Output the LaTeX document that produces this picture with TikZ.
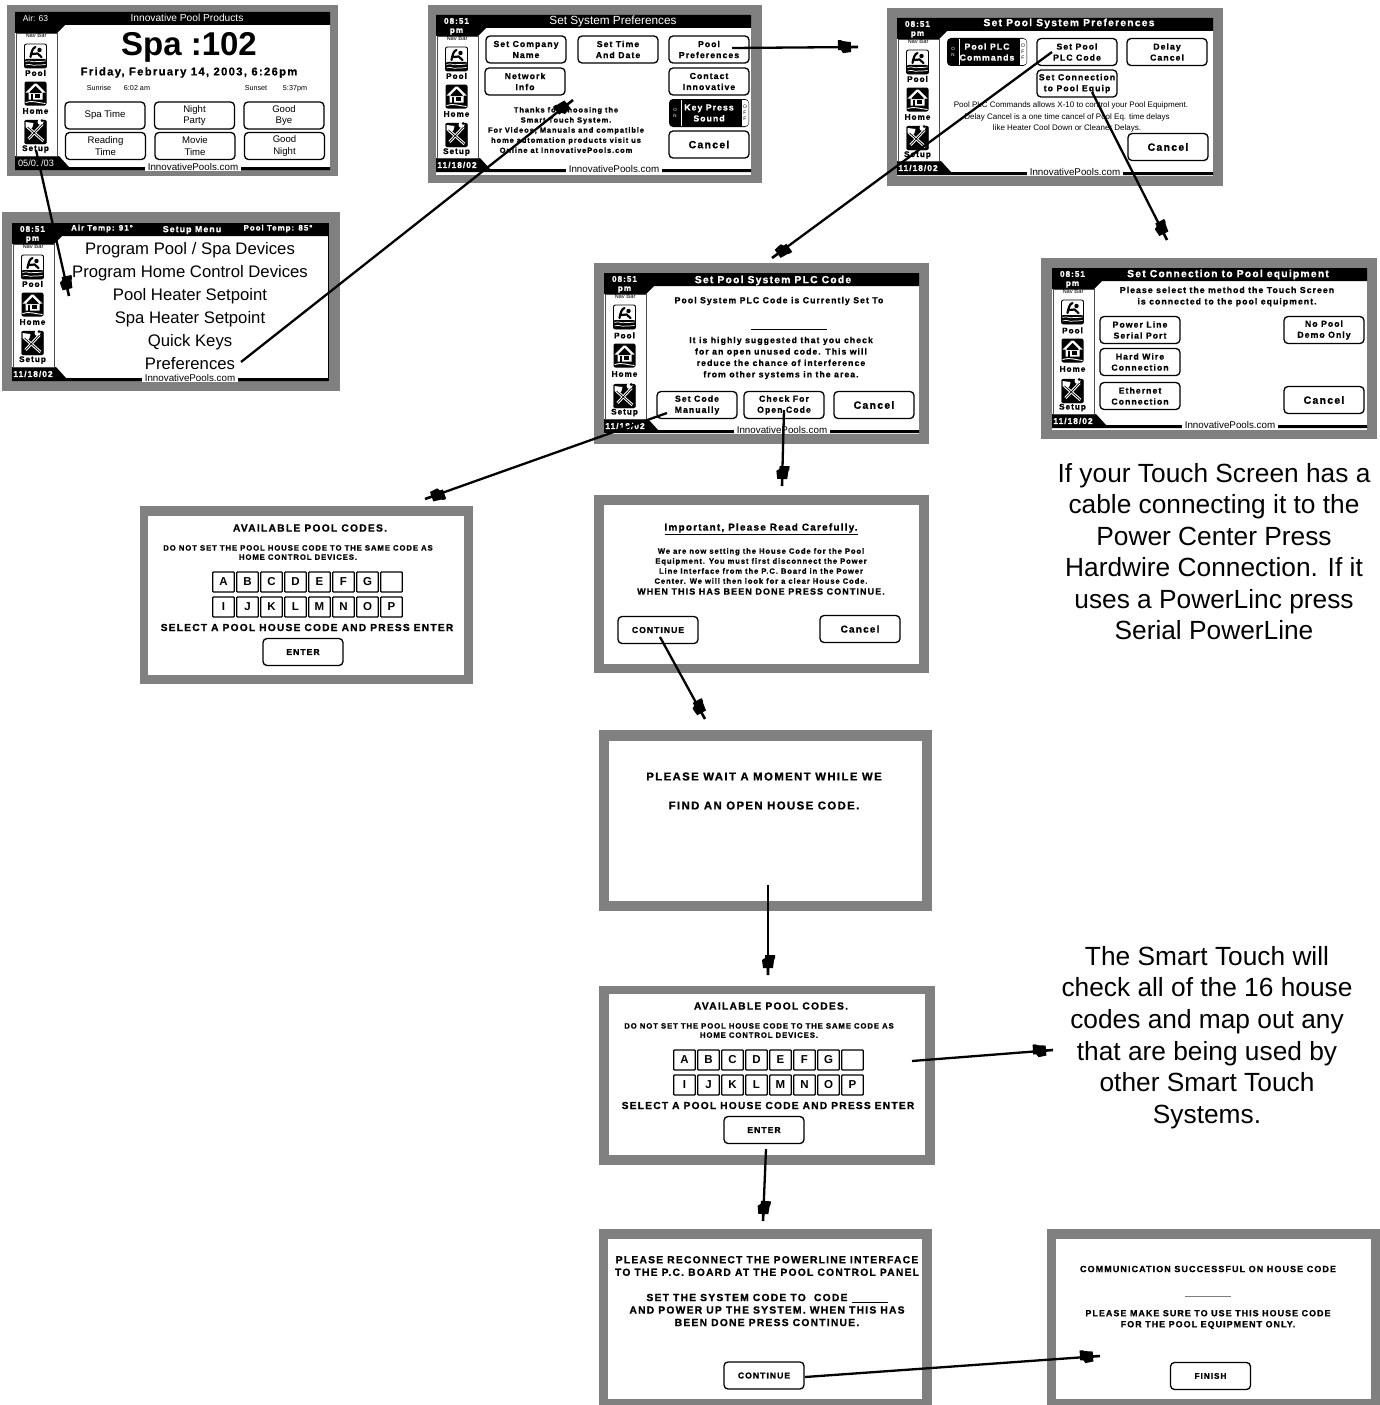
\documentclass[tikz,border=0pt]{standalone}
\usepackage{fontspec}
\setmainfont{Liberation Sans}
\newfontfamily\pxf[LetterSpace=12,BoldFeatures={FakeBold=1}]{Liberation Sans}
\usetikzlibrary{arrows.meta}
\newcommand\PX{\pxf\bfseries}
\newcommand\fs[2]{\fontsize{#1}{#2}\selectfont}
\definecolor{frameg}{HTML}{808080}
\pgfdeclarearrow{name=Blk,
 setup code={\pgfarrowssettipend{0pt}\pgfarrowssetlineend{-9pt}\pgfarrowssetbackend{-20pt}\pgfarrowssetvisualbackend{-20pt}},
 drawing code={
  \pgfpathmoveto{\pgfqpoint{-20pt}{7pt}}
  \pgfpathlineto{\pgfqpoint{-17pt}{7pt}}
  \pgfpathlineto{\pgfqpoint{-15pt}{6pt}}
  \pgfpathlineto{\pgfqpoint{-7pt}{5pt}}
  \pgfpathlineto{\pgfqpoint{-7pt}{1.3pt}}
  \pgfpathlineto{\pgfqpoint{0pt}{1.3pt}}
  \pgfpathlineto{\pgfqpoint{0pt}{-1.3pt}}
  \pgfpathlineto{\pgfqpoint{-7pt}{-1.3pt}}
  \pgfpathlineto{\pgfqpoint{-7pt}{-5pt}}
  \pgfpathlineto{\pgfqpoint{-15pt}{-6pt}}
  \pgfpathlineto{\pgfqpoint{-17pt}{-3pt}}
  \pgfpathlineto{\pgfqpoint{-20pt}{-3pt}}
  \pgfpathclose\pgfusepathqfill}}
\newcounter{lbl}
\newcommand\Lbl[4]{\stepcounter{lbl}\node[lab,font=#3] (lb\thelbl) at (#1,#2) {#4};}
\newcommand\Panel[8]{\fill[frameg] (#1,#2) rectangle (#3,#4);\fill[white] (#5,#6) rectangle (#7,#8);}
\newcommand\Btn[4]{\node[btn] (#1) at (#2,#3) {#4};}
\newcommand\Chrome[7]{%
 \ifnum#4=160 \def\nA{1.5}\def\nB{2}\def\nC{2.5}\def\nD{1}\def\nE{3}\else\def\nA{0}\def\nB{0}\def\nC{0}\def\nD{0}\def\nE{0}\fi
 \begin{scope}[shift={(#1,#2)}]
 \begin{scope}
 \clip (0,0) rectangle (#3,#4);
 \fill (0,0)--(#3,0)--(#3,13)--(50,13)--(42,21)--(0,21)--cycle;
 \fill (0,#4-14)--(44,#4-14)--(54,#4-3)--(#3,#4-3)--(#3,#4)--(0,#4)--cycle;
 \stepcounter{lbl}\node[lab,fill=white,inner xsep=3pt,inner ysep=1pt,font=\normalfont\fs{9.8}{11}] (lb\thelbl) at (178,#4-3) {InnovativePools.com};
 \end{scope}
 \filldraw[fill=white,draw=black!70,line width=.6pt] (1,21) rectangle (42,#4-14);
 \Lbl{20.5}{6}{\PX\fs{8.2}{9}\color{white}}{#5}
 \Lbl{20.5}{16.5}{\PX\fs{8.2}{9}\color{white}}{#6}
 \Lbl{21}{#4-7}{\PX\fs{8.4}{10}\color{white}}{#7}
 \Lbl{21}{24}{\normalfont\fs{5.8}{7}}{Nav Bar}
 \pic at (20.5,44) {poolicon};
 \Lbl{20.5}{61+\nA}{\PX\fs{8.2}{9}}{Pool}
 \pic at (20.5,81.5+\nD) {homeicon};
 \Lbl{20.5}{99+\nB}{\PX\fs{8.2}{9}}{Home}
 \pic at (20.5,120+\nE) {setupicon};
 \Lbl{20.5}{137+\nC}{\PX\fs{8.2}{9}}{Setup}
 \end{scope}}
\newcommand\Tog[4]{%
 \node[tog] (#1) at (#2,#3) {#4};
 \begin{scope}[shift={(#2,#3)}]
 \fill[white,rounded corners=3pt] (30,-13) rectangle (39.5,13);
 \fill (30,-13) rectangle (33,13);
 \fill[white] (-28.5,-13) rectangle (-27.5,13);
 \Lbl{-34}{0}{\normalfont\fs{4.5}{5.5}\color{white}}{O\\N}
 \Lbl{36}{0}{\normalfont\fs{5}{6}}{O\\F\\F}
 \end{scope}}
\newcommand\Codes[3]{%
 \begin{scope}[shift={(#1,#2)}]
 \Lbl{310}{528}{\PX\fs{10.3}{11}}{AVAILABLE POOL CODES.}
 \Lbl{298}{552.5}{\PX\fs{7.7}{9.2}}{DO NOT SET THE POOL HOUSE CODE TO THE SAME CODE AS\\HOME CONTROL DEVICES.}
 \foreach \l [count=\i] in {A,B,C,D,E,F,G,{}}
  \node[keyb] (#3a\i) at (223.5+24*\i-24,582) {\l};
 \foreach \l [count=\i] in {I,J,K,L,M,N,O,P}
  \node[keyb] (#3b\i) at (223.5+24*\i-24,607) {\l};
 \Lbl{307}{627.5}{\PX\fs{10.2}{11}}{SELECT A POOL HOUSE CODE AND PRESS ENTER}
 \Btn{#3enter}{303}{652}{\fs{8.6}{10}ENTER}
 \end{scope}}
\tikzset{
 lab/.style={inner sep=0pt,align=center},
 btn/.style={draw,fill=white,rounded corners=4pt,line width=1.3pt,minimum width=80pt,minimum height=27pt,align=center,inner sep=0pt,font=\PX\fs{8.7}{11}},
 tog/.style={fill=black,rounded corners=4pt,minimum width=80pt,minimum height=28pt,align=center,inner sep=0pt,text=white,font=\PX\fs{8.7}{11}},
 keyb/.style={draw,fill=white,rounded corners=.8pt,line width=1.2pt,minimum width=21.5pt,minimum height=20pt,inner sep=0pt,font=\normalfont\bfseries\fs{11.5}{13}},
 conn/.style={draw,line width=2.3pt,-Blk},
 poolicon/.pic={
  \filldraw[fill=white,draw=black,line width=.9pt,rounded corners=2pt] (-11,-12) rectangle (11,12);
  \fill[rounded corners=2pt] (-11,3) rectangle (11,12);
  \draw[white,line width=.7pt] (-10,5.5) .. controls (-5,3.5) and (-3,7) .. (1,5.5) .. controls (4,4.5) and (7,6.5) .. (10,5);
  \draw[white,line width=.7pt] (-10,9) .. controls (-5,7) and (-3,10.5) .. (1,9) .. controls (4,8) and (7,10) .. (10,8.5);
  \fill (4,-6) circle (2.2pt);
  \draw[line width=2.2pt,line cap=round] (-5,1) .. controls (-4,-4) and (-3,-8) .. (0,-9) (-3,-2) -- (2,-2.5) -- (6,1);
 },
 homeicon/.pic={
  \fill[rounded corners=2pt] (-11,-12) rectangle (11,12);
  \fill[white] (-10,-1) -- (-1,-10) -- (1,-10) -- (10,-1) -- (7,-1) -- (7,6) -- (-7,6) -- (-7,-1) -- cycle;
  \fill (-6,-1.5) -- (0,-7.5) -- (6,-1.5) -- (6,-.5) -- (-6,-.5) -- cycle;
  \fill (-1,0) rectangle (4,4);
  \fill (-5,0) rectangle (-3,6);
  \draw[white,line width=.9pt] (-10,9) .. controls (-3,6.5) and (3,9.5) .. (10,10);
 },
 setupicon/.pic={
  \filldraw[draw=black,fill=black,rounded corners=2pt] (-11,-12) rectangle (11,12);
  \draw[white,line width=2.8pt] (-8,-5) -- (8,9);
  \draw[white,line width=2.8pt] (7,-8) -- (-7,7);
  \fill[white] (-10,-10) -- (-2,-9) -- (-3,-5) -- (-6,-2) -- (-10,-5) -- cycle;
  \fill[white] (5,-10) circle (3pt);
  \fill (6.5,-11.5) circle (1.5pt);
  \draw[line width=.7pt] (-8,-5) -- (8,9);
  \draw[line width=.7pt] (7,-8) -- (-7,7);
 }
}
\begin{document}
\begin{tikzpicture}[x=1pt,y=-1pt]
\useasboundingbox (0,0) rectangle (1380,1405);
\fill[white] (0,0) rectangle (1380,1405);
% panels
\Panel{7}{5}{338}{176}{15}{12}{330}{170}
\Panel{2}{212}{340}{391}{12}{223}{328}{381}
\Panel{428}{5}{762}{183}{436}{15}{751}{175}
\Panel{887}{8}{1223}{186}{897}{18}{1213}{176}
\Panel{594}{263}{929}{444}{604}{273}{919}{434}
\Panel{1041}{258}{1377}{439}{1052}{268}{1367}{430}
\Panel{140}{506}{473}{684}{148}{516}{464}{675}
\Panel{594}{495}{929}{673}{604}{505}{919}{664}
\Panel{599}{730}{932}{911}{609}{741}{922}{901}
\Panel{599}{986}{935}{1165}{609}{994}{925}{1155}
\Panel{599}{1229}{932}{1405}{608}{1239}{922}{1399}
\Panel{1047}{1229}{1380}{1405}{1056}{1239}{1371}{1399}
% P1 home
\Chrome{15}{12}{315}{158}{\normalfont\mdseries\fs{8.5}{10}Air: 63}{}{\normalfont\mdseries\fs{9.2}{10}05/01/03}
\Lbl{187}{17.5}{\normalfont\fs{10.2}{12}\color{white}}{Innovative Pool Products}
\Lbl{189}{47}{\normalfont\bfseries\fs{33}{38}}{Spa :102}
\Lbl{189}{72.5}{\PX\fs{11.2}{13}}{Friday, February 14, 2003, 6:26pm}
\Lbl{99}{88}{\normalfont\fs{7.2}{9}}{Sunrise}
\Lbl{137}{88}{\normalfont\fs{7.2}{9}}{6:02 am}
\Lbl{256}{88}{\normalfont\fs{7.2}{9}}{Sunset}
\Lbl{295}{89}{\normalfont\fs{7.2}{9}}{5:37pm}
\begin{scope}[btn/.append style={font=\normalfont\fs{9.6}{11.5}}]
\Btn{spatime}{105}{115.5}{Spa Time}
\Btn{nightparty}{194.5}{115.5}{Night\\Party}
\Btn{goodbye}{284}{115.5}{Good\\Bye}
\Btn{reading}{105.5}{146}{Reading\\Time}
\Btn{movie}{195}{146}{Movie\\Time}
\Btn{goodnight}{284.5}{146}{Good\\Night}
\end{scope}
% P2 setup
\draw[line width=.8pt] (328,223) -- (328,381);
\Chrome{12}{223}{316}{158}{08:51}{pm}{11/18/02}
\Lbl{102}{228.5}{\PX\fs{8}{9}\color{white}}{Air Temp: 91°}
\Lbl{192}{230}{\PX\fs{8.8}{9}\color{white}}{Setup Menu}
\Lbl{278}{228.5}{\PX\fs{8}{9}\color{white}}{Pool Temp: 85°}
\Lbl{190}{250.5}{\normalfont\fs{16.7}{19}}{\vphantom{Pg}Program Pool / Spa Devices}
\Lbl{190}{273.5}{\normalfont\fs{16.7}{19}}{\vphantom{Pg}Program Home Control Devices}
\Lbl{190}{296.5}{\normalfont\fs{16.7}{19}}{\vphantom{Pg}Pool Heater Setpoint}
\Lbl{190}{319.5}{\normalfont\fs{16.7}{19}}{\vphantom{Pg}Spa Heater Setpoint}
\Lbl{190}{342.5}{\normalfont\fs{16.7}{19}}{\vphantom{Pg}Quick Keys}
\node[lab,font=\normalfont\fs{16.7}{19}] (prefs) at (190,365.5) {\vphantom{Pg}Preferences};
% P3 preferences
\Chrome{436}{15}{315}{157}{08:51}{pm}{11/18/02}
\Lbl{613}{21.5}{\normalfont\fs{11.8}{14}\color{white}}{Set System Preferences}
\Btn{company}{526}{49.5}{Set Company\\Name}
\Btn{settime}{618}{49.5}{Set Time\\And Date}
\Btn{poolpref}{709}{49.5}{Pool\\Preferences}
\Btn{netinfo}{525}{81.5}{Network\\Info}
\Btn{contact}{709}{81.5}{Contact\\Innovative}
\Tog{keypress}{709}{113}{Key Press\\Sound}
\Btn{cancelA}{709}{144.5}{\fs{10.5}{12}Cancel}
\Lbl{566}{130}{\PX\fs{7.5}{10.1}}{Thanks for choosing the\\Smart Touch System.\\For Videos, Manuals and compatible\\home automation products visit us\\Online at InnovativePools.com}
% P4 pool prefs
\Chrome{897}{18}{316}{157}{08:51}{pm}{11/18/02}
\Lbl{1069}{23.5}{\PX\fs{10.3}{11}\color{white}}{Set Pool System Preferences}
\Tog{plccmd}{987}{52}{Pool PLC\\Commands}
\Btn{setplc}{1077}{52}{Set Pool\\PLC Code}
\Btn{delay}{1167}{52}{Delay\\Cancel}
\Btn{setconn}{1077}{83.5}{Set Connection\\to Pool Equip}
\Btn{cancelB}{1168}{147}{\fs{10.5}{12}Cancel}
\Lbl{1071}{105}{\normalfont\fs{8}{10}}{Pool PLC Commands allows X-10 to control your Pool Equipment.}
\Lbl{1067}{123}{\normalfont\fs{8}{10.5}}{Delay Cancel is a one time cancel of Pool Eq. time delays\\like Heater Cool Down or Cleaner Delays.}
% P5 PLC code
\Chrome{604}{273}{315}{160}{08:51}{pm}{11/18/02}
\Lbl{773}{280.5}{\PX\fs{10.3}{11}\color{white}}{Set Pool System PLC Code}
\Lbl{779}{301}{\PX\fs{8.7}{10}}{Pool System PLC Code is Currently Set To}
\coordinate (uL) at (751,329.5); \coordinate (uR) at (827,329.5);
\draw[line width=.6pt] (uL) -- (uR);
\Lbl{781}{358}{\PX\fs{8.7}{11.4}}{It is highly suggested that you check\\for an open unused code. This will\\reduce the chance of interference\\from other systems in the area.}
\Btn{manual}{697}{405}{Set Code\\Manually}
\Btn{checkopen}{784}{405}{Check For\\Open Code}
\Btn{cancelC}{874}{405}{\fs{10.5}{12}Cancel}
% P6 connection
\Chrome{1052}{268}{315}{160}{08:51}{pm}{11/18/02}
\Lbl{1228}{274.5}{\PX\fs{10.3}{11}\color{white}}{Set Connection to Pool equipment}
\Lbl{1227}{296.5}{\PX\fs{8.7}{11.4}}{Please select the method the Touch Screen\\is connected to the pool equipment.}
\Btn{powerline}{1140}{330}{Power Line\\Serial Port}
\Btn{hardwire}{1140}{362}{Hard Wire\\Connection}
\Btn{ethernet}{1140}{396}{Ethernet\\Connection}
\Btn{nopool}{1324}{330}{No Pool\\Demo Only}
\Btn{cancelD}{1324}{400}{\fs{10.5}{12}Cancel}
\Lbl{1214}{551.5}{\normalfont\fs{26.3}{31.5}}{If your Touch Screen has a\\cable connecting it to the\\Power Center Press\\Hardwire Connection. If it\\uses a PowerLinc press\\Serial PowerLine}
% P7 codes
\Codes{0}{0}{u}
% P8 important
\Lbl{761}{529}{\PX\fs{10}{11}}{\underline{Important, Please Read Carefully.}}
\Lbl{761}{566}{\PX\fs{7.6}{10}}{We are now setting the House Code for the Pool\\Equipment. You must first disconnect the Power\\Line Interface from the P.C. Board in the Power\\Center. We will then look for a clear House Code.}
\Lbl{761}{591.5}{\PX\fs{9}{10}}{WHEN THIS HAS BEEN DONE PRESS CONTINUE.}
\Btn{contA}{658}{630}{\fs{8.6}{10}CONTINUE}
\Btn{cancelE}{860}{629}{\fs{10}{12}Cancel}
% P9 wait
\Lbl{764}{776.5}{\PX\fs{11.4}{12}}{PLEASE WAIT A MOMENT WHILE WE}
\Lbl{764}{805.5}{\PX\fs{11.4}{12}}{FIND AN OPEN HOUSE CODE.}
% P10 codes
\Codes{461}{478}{v}
\Lbl{1207}{1037.5}{\normalfont\fs{26.3}{31.6}}{The Smart Touch will\\check all of the 16 house\\codes and map out any\\that are being used by\\other Smart Touch\\Systems.}
% P11
\Lbl{767}{1266}{\PX\fs{10.3}{12.5}}{PLEASE RECONNECT THE POWERLINE INTERFACE\\TO THE P.C. BOARD AT THE POOL CONTROL PANEL}
\Lbl{767}{1310}{\PX\fs{10.3}{12.5}}{SET THE SYSTEM CODE TO~~CODE \underline{\hspace{36pt}}\\AND POWER UP THE SYSTEM. WHEN THIS HAS\\BEEN DONE PRESS CONTINUE.}
\Btn{contB}{764}{1375.5}{\fs{8.6}{10}CONTINUE}
% P12
\Lbl{1208}{1269}{\PX\fs{9}{10}}{COMMUNICATION SUCCESSFUL ON HOUSE CODE}
\coordinate (gL) at (1185,1296); \coordinate (gR) at (1231,1296);
\draw[gray,line width=.8pt] (gL) -- (gR);
\Lbl{1208}{1319.5}{\PX\fs{8.9}{11}}{PLEASE MAKE SURE TO USE THIS HOUSE CODE\\FOR THE POOL EQUIPMENT ONLY.}
\Btn{finish}{1210.5}{1376}{\fs{8.2}{10}FINISH}
% connector ends
\coordinate (a0) at (36,150);   \coordinate (a1) at (69,296);
\coordinate (b0) at (241,362);  \coordinate (b1) at (573,100);
\coordinate (c0) at (732,48);   \coordinate (c1) at (858,47);
\coordinate (d0) at (1052,52);  \coordinate (d1) at (772,258);
\coordinate (e0) at (1092,92);  \coordinate (e1) at (1167,240);
\coordinate (f0) at (667,413);  \coordinate (f1) at (425,499);
\coordinate (g0) at (784,410);  \coordinate (g1) at (782,486);
\coordinate (h0) at (660,637);  \coordinate (h1) at (705,719);
\coordinate (i0) at (768,885);  \coordinate (i1) at (768,975);
\coordinate (j0) at (912,1061); \coordinate (j1) at (1053,1050);
\coordinate (k0) at (766,1149); \coordinate (k1) at (763,1221);
\coordinate (l0) at (805,1377); \coordinate (l1) at (1100,1356);
\foreach \s/\t in {a0/a1,b0/b1,c0/c1,d0/d1,e0/e1,f0/f1,g0/g1,h0/h1,i0/i1,j0/j1,k0/k1,l0/l1}
 \draw[conn] (\s) -- (\t);
\end{tikzpicture}
\end{document}
